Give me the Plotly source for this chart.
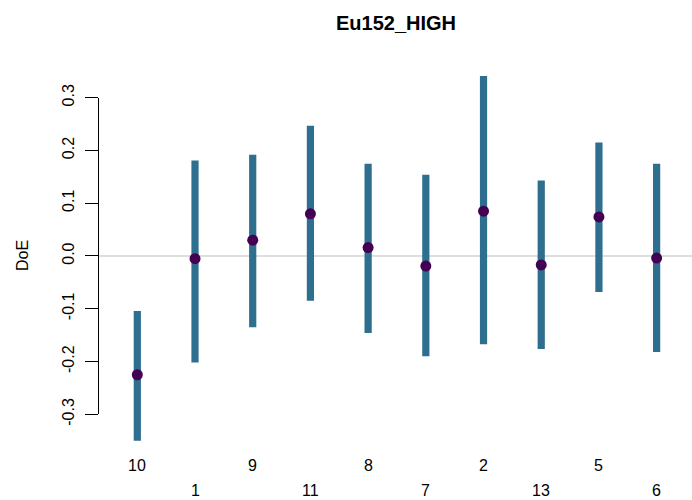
import plotly.graph_objects as go

# Degrees of equivalence per laboratory, with expanded uncertainty intervals
labs = ["10", "1", "9", "11", "8", "7", "2", "13", "5", "6"]
doe = [-0.225, -0.005, 0.030, 0.080, 0.016, -0.019, 0.085, -0.017, 0.074, -0.004]
lower = [-0.350, -0.202, -0.135, -0.085, -0.146, -0.190, -0.167, -0.176, -0.068, -0.182]
upper = [-0.104, 0.181, 0.192, 0.247, 0.175, 0.154, 0.341, 0.143, 0.215, 0.175]
yticks = [-0.3, -0.2, -0.1, 0.0, 0.1, 0.2, 0.3]

pos = list(range(1, len(labs) + 1))
bar_col = "#2E6E8E"
pt_col = "#440154"
font = "Liberation Sans, Arial, sans-serif"

# full vertical extent of the plotting region, in data units
y_lo, y_hi = -0.36, 0.36
# the drawn axis covers only the tick range
ax_dom = [(yticks[0] - y_lo) / (y_hi - y_lo), (yticks[-1] - y_lo) / (y_hi - y_lo)]

fig = go.Figure()
fig.add_trace(go.Bar(
    x=pos,
    y=[h - l for h, l in zip(upper, lower)],
    base=lower,
    width=0.125,
    marker=dict(color=bar_col, line=dict(width=0)),
    hoverinfo="skip",
))
fig.add_trace(go.Scatter(
    x=pos, y=doe, mode="markers",
    marker=dict(color=pt_col, size=11, symbol="circle"),
    cliponaxis=False,
    hoverinfo="skip",
))
# invisible companion trace so the tick axis is laid out
fig.add_trace(go.Scatter(
    x=pos, y=doe, mode="markers", yaxis="y2",
    marker=dict(opacity=0), hoverinfo="skip",
))

# zero reference line
fig.add_shape(type="line", xref="paper", yref="y", x0=0, x1=1, y0=0, y1=0,
              line=dict(color="#BDBDBD", width=1.2), layer="below")

# staggered laboratory labels
ann = []
for i, (p, lab) in enumerate(zip(pos, labs)):
    ann.append(dict(x=p, y=0, xref="x", yref="paper", text=lab, showarrow=False,
                    yanchor="middle", yshift=-19 if i % 2 == 0 else -44,
                    font=dict(family=font, size=16, color="black")))
ann.append(dict(x=0.5, y=1, xref="paper", yref="paper", text="<b>Eu152_HIGH</b>",
                showarrow=False, yanchor="middle", yshift=43,
                font=dict(family=font, size=20, color="black")))
ann.append(dict(x=0, y=0, xref="paper", yref="y", text="DoE", showarrow=False,
                textangle=-90, xanchor="center", xshift=-77,
                font=dict(family=font, size=16, color="black")))
fig.update_layout(annotations=ann)

fig.update_layout(
    width=692, height=500,
    margin=dict(l=99, r=0, t=66, b=54),
    paper_bgcolor="white", plot_bgcolor="rgba(0,0,0,0)",
    showlegend=False,
    barmode="overlay",
    xaxis=dict(range=[0.336, 10.613], showgrid=False, zeroline=False,
               showline=False, showticklabels=False, ticks=""),
    yaxis=dict(range=[y_lo, y_hi], showgrid=False, zeroline=False,
               showline=False, showticklabels=False, ticks=""),
    yaxis2=dict(domain=ax_dom, range=[yticks[0], yticks[-1]], anchor="x",
                showgrid=False, zeroline=False,
                showline=True, linecolor="black", linewidth=1,
                tickvals=yticks,
                ticktext=[f"{v:.1f}" for v in yticks],
                ticks="outside", ticklen=13, tickcolor="black", tickwidth=1,
                tickangle=-90, ticklabelstandoff=5,
                tickfont=dict(family=font, size=16, color="black")),
)

fig.write_html("out.html")
